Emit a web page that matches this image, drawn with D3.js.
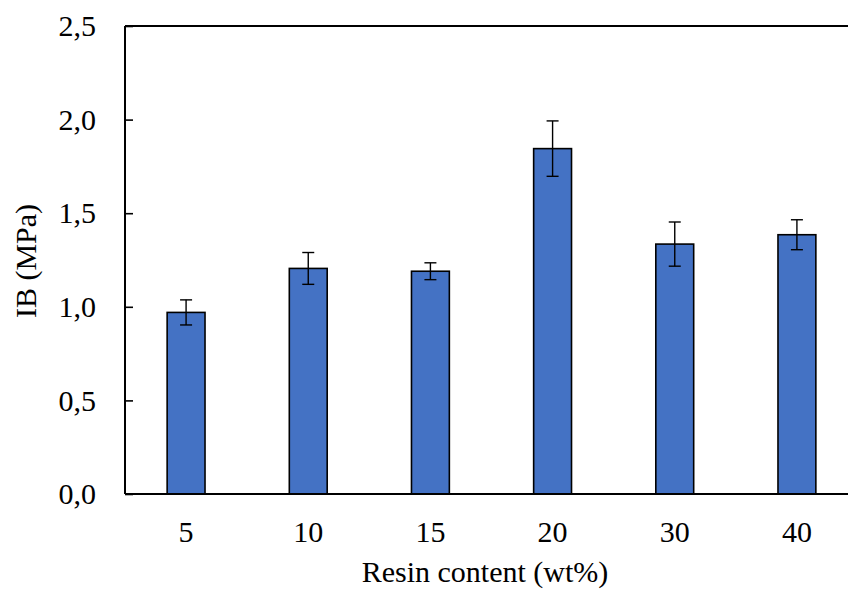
<!DOCTYPE html>
<html><head><meta charset="utf-8">
<script src="https://cdn.jsdelivr.net/npm/d3@7"></script>
<style>body{margin:0;background:#fff}svg{display:block}text{font-family:"Liberation Serif","Times New Roman",serif;fill:#000}</style>
</head><body><svg id="c" width="848" height="595"></svg>
<script>
const categories = ["5","10","15","20","30","40"];
const values = [0.97, 1.205, 1.19, 1.845, 1.335, 1.385];
const errors = [0.067, 0.085, 0.045, 0.148, 0.118, 0.08];
const yTicks = [0, 0.5, 1.0, 1.5, 2.0, 2.5];
const xTitle = "Resin content (wt%)";
const yTitle = "IB (MPa)";

const FS = 30;
const svg = d3.select("#c");
const m = {l:125, t:26, b:494, r:858};
const x = d3.scaleBand().domain(categories).range([m.l, m.r]).paddingInner(0.69).paddingOuter(0.345);
const y = d3.scaleLinear().domain([0, 2.5]).range([m.b, m.t]);

// top border line
svg.append("line").attr("x1", m.l).attr("x2", 848).attr("y1", y(2.5)).attr("y2", y(2.5))
  .attr("stroke", "#000").attr("stroke-width", 2);

// bars
svg.selectAll("rect.bar").data(values).join("rect").attr("class","bar")
  .attr("x", (d,i)=>x(categories[i])).attr("width", x.bandwidth())
  .attr("y", d=>y(d)).attr("height", d=>y(0)-y(d))
  .attr("fill", "#4472C4").attr("stroke", "#000").attr("stroke-width", 1.6);

// error bars
const eg = svg.append("g").attr("stroke","#000").attr("stroke-width",1.4);
values.forEach((v,i)=>{
  const cx = x(categories[i]) + x.bandwidth()/2;
  const e = errors[i];
  eg.append("line").attr("x1",cx).attr("x2",cx).attr("y1",y(v+e)).attr("y2",y(v-e));
  eg.append("line").attr("x1",cx-6).attr("x2",cx+6).attr("y1",y(v+e)).attr("y2",y(v+e));
  eg.append("line").attr("x1",cx-6).attr("x2",cx+6).attr("y1",y(v-e)).attr("y2",y(v-e));
});

// y axis
const fmt = d => d3.format(".1f")(d).replace(".", ",");
const ya = svg.append("g").attr("transform", `translate(${m.l},0)`)
  .call(d3.axisLeft(y).tickValues(yTicks).tickSize(-8).tickPadding(29).tickFormat(fmt));
ya.select(".domain").attr("stroke","#000").attr("stroke-width",2).attr("d", `M0,${y(2.5)}V${y(0)}`);
ya.selectAll(".tick line").attr("stroke","#000").attr("stroke-width",1.6);
ya.selectAll(".tick text").attr("font-size", FS).attr("font-family","Liberation Serif").attr("fill","#000");

// x axis
const xa = svg.append("g").attr("transform", `translate(0,${m.b})`)
  .call(d3.axisBottom(x).tickSize(0).tickPadding(27));
xa.select(".domain").attr("stroke","#000").attr("stroke-width",2).attr("d", `M${m.l},0H848`);
xa.selectAll(".tick text").attr("font-size", FS).attr("font-family","Liberation Serif").attr("fill","#000");

// titles
svg.append("text").attr("x", 485).attr("y", 582).attr("text-anchor","middle").attr("font-size",FS).text(xTitle);
svg.append("text").attr("transform","translate(36,261) rotate(-90)").attr("text-anchor","middle").attr("font-size",FS).text(yTitle);
</script></body></html>
